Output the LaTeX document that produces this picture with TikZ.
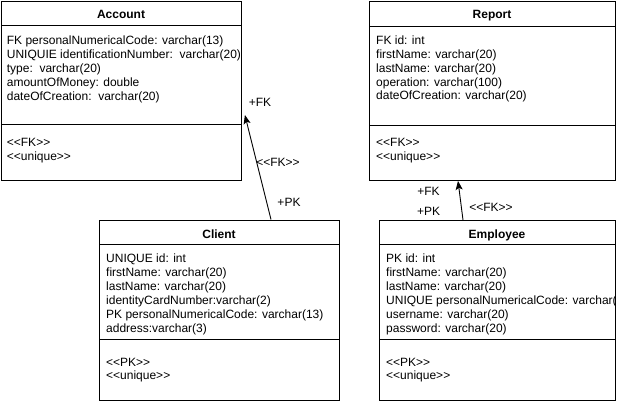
\documentclass[tikz,border=0pt]{standalone}
\usepackage{fontspec}
\setmainfont{Liberation Sans}
\usetikzlibrary{arrows.meta}
\newcommand{\lt}{<\kern0pt<}
\newcommand{\gt}{>\kern0pt>}
\begin{document}
\begin{tikzpicture}[x=1pt,y=-1pt,
  box/.style={draw=black,line width=0.9pt,rectangle,inner sep=0pt,anchor=north west},
  title/.style={font=\fontsize{12}{14}\selectfont\bfseries,inner sep=0pt,anchor=base},
  attrs/.style={font=\fontsize{12}{13.9}\selectfont,align=left,inner sep=0pt,anchor=base west},
  lbl/.style={font=\fontsize{12}{14}\selectfont,inner sep=0pt,anchor=base},
  conn/.style={draw=black,line width=0.9pt,-{Stealth[length=9pt,width=7pt,inset=2pt]}},
  sep/.style={draw=black,line width=0.9pt}]
\useasboundingbox (0,0) rectangle (620,404);

% Account
\node[box,minimum width=240pt,minimum height=179pt] (account) at (1,1) {};
\draw[sep] (1,25.7) -- (241,25.7) (1,124) -- (241,124);
\node[title] (accountT) at (121,18.3) {Account};
\begin{scope}
\clip (account.north west) rectangle (account.south east);
\node[attrs] (accountA) at (6.7,100.1) {FK personalNumericalCode: varchar(13)\\UNIQUIE identificationNumber:\ \ varchar(20)\\type:\ \ varchar(20)\\amountOfMoney: double\\dateOfCreation:\ \ varchar(20)};
\node[attrs] (accountS) at (6.7,160.4) {\lt FK\gt\\\lt unique\gt};
\end{scope}

% Report
\node[box,minimum width=246pt,minimum height=179pt] (report) at (369,1) {};
\draw[sep] (369,26) -- (615,26) (369,125.5) -- (615,125.5);
\node[title] (reportT) at (492,18.3) {Report};
\begin{scope}
\clip (report.north west) rectangle (report.south east);
\node[attrs] (reportA) at (376,99.9) {FK id: int\\firstName: varchar(20)\\lastName: varchar(20)\\operation: varchar(100)\\dateOfCreation: varchar(20)};
\node[attrs] (reportS) at (376,160.4) {\lt FK\gt\\\lt unique\gt};
\end{scope}

% Client
\node[box,minimum width=240pt,minimum height=180pt] (client) at (99,219.5) {};
\draw[sep] (99,244) -- (339,244) (99,339.5) -- (339,339.5);
\node[title] (clientT) at (219,238.5) {Client};
\begin{scope}
\clip (client.north west) rectangle (client.south east);
\node[attrs] (clientA) at (106,332) {UNIQUE id: int\\firstName: varchar(20)\\lastName: varchar(20)\\identityCardNumber:varchar(2)\\PK personalNumericalCode: varchar(13)\\address:varchar(3)};
\node[attrs] (clientS) at (106,379.9) {\lt PK\gt\\\lt unique\gt};
\end{scope}

% Employee
\node[box,minimum width=236pt,minimum height=180pt] (employee) at (379,220) {};
\draw[sep] (379,244) -- (615,244) (379,339.5) -- (615,339.5);
\node[title] (employeeT) at (497,238.5) {Employee};
\begin{scope}
\clip (employee.north west) rectangle (employee.south east);
\node[attrs] (employeeA) at (386,332) {PK id: int\\firstName: varchar(20)\\lastName: varchar(20)\\UNIQUE personalNumericalCode: varchar(13)\\username: varchar(20)\\password: varchar(20)};
\node[attrs] (employeeS) at (386,379.9) {\lt PK\gt\\\lt unique\gt};
\end{scope}

% connectors
\coordinate (c1s) at ([xshift=172pt]client.north west);
\coordinate (c1e) at ([yshift=-114pt]account.north east);
\draw[conn] (c1s) -- ([xshift=3pt]c1e);
\node[lbl] (l1) at (260,106) {+FK};
\node[lbl] (l2) at (278,166.5) {\lt FK\gt};
\node[lbl] (l3) at (289,206.5) {+PK};

\coordinate (c2s) at ([xshift=84pt]employee.north west);
\coordinate (c2e) at ([xshift=89pt]report.south west);
\draw[conn] (c2s) -- (c2e);
\node[lbl] (l4) at (428.5,195) {+FK};
\node[lbl] (l5) at (428.5,215.5) {+PK};
\node[lbl] (l6) at (491,211) {\lt FK\gt};
\end{tikzpicture}
\end{document}
